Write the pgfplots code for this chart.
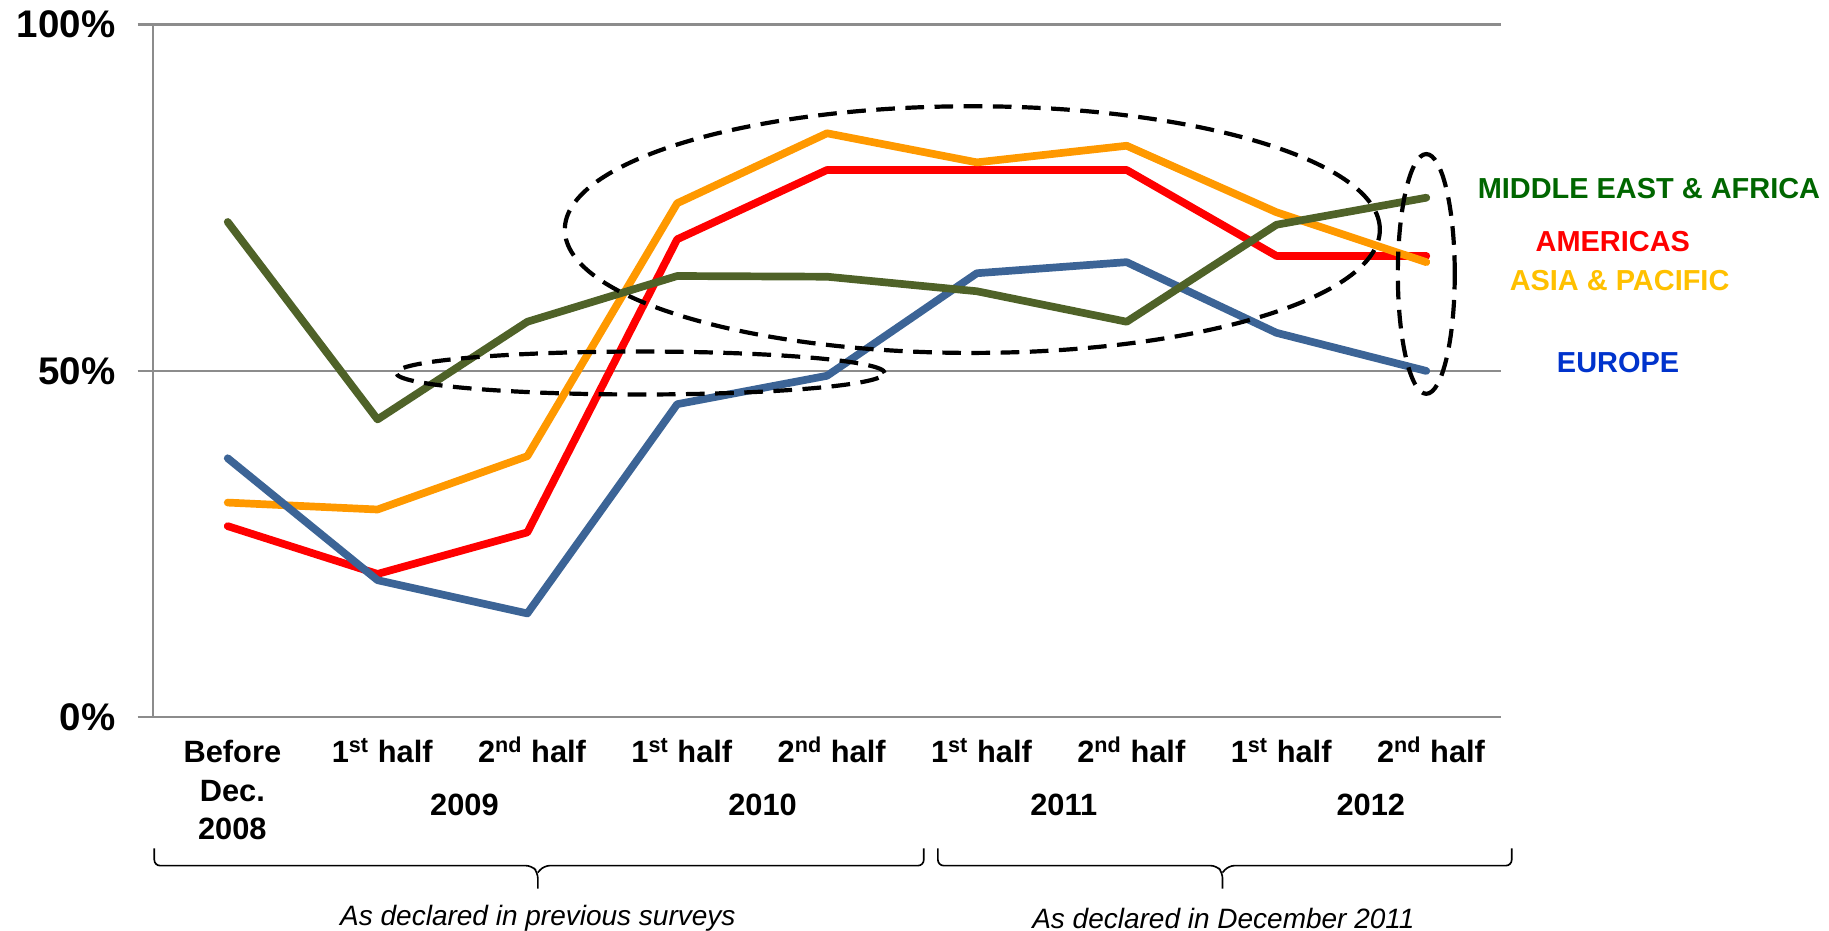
\documentclass[border=0pt]{standalone}
\usepackage{pgfplots}
\pgfplotsset{compat=1.18}
\usepackage{pgfplotstable}
\usepackage{fontspec}
\setmainfont{Liberation Sans}
\definecolor{meaLine}{HTML}{4F6228}
\definecolor{amLine}{HTML}{FF0000}
\definecolor{apLine}{HTML}{FF9900}
\definecolor{euLine}{HTML}{3C6496}
\definecolor{meaText}{HTML}{006600}
\definecolor{apText}{HTML}{FFC000}
\definecolor{euText}{HTML}{0033CC}
\definecolor{gridgray}{HTML}{8C8C8C}

\pgfplotstableread{
x mea am ap eu
0 71.5 27.6 31.0 37.4
1 43.0 20.7 30.0 19.8
2 57.1 26.7 37.7 15.0
3 63.7 69.0 74.2 45.2
4 63.6 79.0 84.3 49.3
5 61.5 79.0 80.1 64.1
6 57.1 79.0 82.5 65.7
7 71.1 66.6 72.9 55.5
8 75.0 66.6 65.7 50.0
}\datatable

\begin{document}
\begin{tikzpicture}
\path[use as bounding box] (-65.5pt,-91.5pt) rectangle (718.5pt,307.5pt);
\begin{axis}[
  scale only axis, width=578pt, height=297pt,
  at={(0,0)}, anchor=south west,
  xmin=-0.5, xmax=8.5, ymin=0, ymax=100,
  axis x line*=bottom, axis y line*=left,
  axis line style={draw=gridgray, line width=0.9pt},
  xtick={0,...,8},
  xticklabels={{\begin{tabular}[t]{@{}c@{}}Before\\Dec.\\2008\end{tabular}},
    1\textsuperscript{st} half, 2\textsuperscript{nd} half,
    1\textsuperscript{st} half, 2\textsuperscript{nd} half,
    1\textsuperscript{st} half, 2\textsuperscript{nd} half,
    1\textsuperscript{st} half, 2\textsuperscript{nd} half},
  xtick style={draw=none},
  ytick={0,50,100}, yticklabels={0\%,50\%,100\%},
  ytick style={draw=gridgray, line width=0.9pt},
  tick align=outside, major tick length=6.5pt,
  ymajorgrids, grid style={draw=gridgray, line width=0.9pt},
  yticklabel style={font=\fontsize{16.5pt}{19pt}\selectfont\bfseries, xshift=-6pt},
  xticklabel style={font=\fontsize{13.2pt}{16.5pt}\selectfont\bfseries, anchor=base, yshift=-13pt, xshift=2pt},
  clip=false,
  every axis plot/.append style={line width=3.3pt, line join=round, line cap=round, no marks},
]
\addplot[amLine] table[x=x, y=am] {\datatable};
\addplot[apLine] table[x=x, y=ap] {\datatable};
\addplot[euLine] table[x=x, y=eu] {\datatable};
\addplot[meaLine] table[x=x, y=mea] {\datatable};

% annotation ellipses
\draw[black, line width=1.8pt, dash pattern=on 8pt off 4.5pt] (axis cs:4.97,70.4) ellipse [x radius=2.72, y radius=17.8];
\draw[black, line width=1.8pt, dash pattern=on 8pt off 4.5pt] (axis cs:2.755,49.7) ellipse [x radius=1.63, y radius=3.1];
\draw[black, line width=1.8pt, dash pattern=on 8pt off 4.5pt] (axis cs:8.0,64.0) ellipse [x radius=0.19, y radius=17.3];

% year labels
\node[anchor=base, font=\fontsize{13.2pt}{16.5pt}\selectfont\bfseries] at (axis cs:1.58,-14.1) {2009};
\node[anchor=base, font=\fontsize{13.2pt}{16.5pt}\selectfont\bfseries] at (axis cs:3.57,-14.1) {2010};
\node[anchor=base, font=\fontsize{13.2pt}{16.5pt}\selectfont\bfseries] at (axis cs:5.58,-14.1) {2011};
\node[anchor=base, font=\fontsize{13.2pt}{16.5pt}\selectfont\bfseries] at (axis cs:7.63,-14.1) {2012};

% series labels
\node[text depth=0pt, font=\fontsize{12.4pt}{15pt}\selectfont\bfseries, text=meaText] at (axis cs:9.486,76.3) {MIDDLE EAST \& AFRICA};
\node[text depth=0pt, font=\fontsize{12.4pt}{15pt}\selectfont\bfseries, text=amLine] at (axis cs:9.245,68.7) {AMERICAS};
\node[text depth=0pt, font=\fontsize{12.4pt}{15pt}\selectfont\bfseries, text=apText] at (axis cs:9.29,63.1) {ASIA \& PACIFIC};
\node[text depth=0pt, font=\fontsize{12.4pt}{15pt}\selectfont\bfseries, text=euText] at (axis cs:9.28,51.3) {EUROPE};

% brackets
\draw[black, line width=0.7pt, rounded corners=2.5pt]
  (axis cs:-0.49,-18.9) -- (axis cs:-0.49,-21.4) -- (axis cs:2.03,-21.4) -- (axis cs:2.07,-22.4) -- (axis cs:2.07,-24.7);
\draw[black, line width=0.7pt, rounded corners=2.5pt]
  (axis cs:4.646,-18.9) -- (axis cs:4.646,-21.4) -- (axis cs:2.11,-21.4) -- (axis cs:2.07,-22.4);
\draw[black, line width=0.7pt, rounded corners=2.5pt]
  (axis cs:4.74,-18.9) -- (axis cs:4.74,-21.4) -- (axis cs:6.60,-21.4) -- (axis cs:6.64,-22.4) -- (axis cs:6.64,-24.7);
\draw[black, line width=0.7pt, rounded corners=2.5pt]
  (axis cs:8.57,-18.9) -- (axis cs:8.57,-21.4) -- (axis cs:6.68,-21.4) -- (axis cs:6.64,-22.4);
\node[font=\fontsize{12pt}{14pt}\selectfont\itshape] at (axis cs:2.07,-29.0) {As declared in previous surveys};
\node[font=\fontsize{12pt}{14pt}\selectfont\itshape] at (axis cs:6.646,-29.0) {As declared in December 2011};
\end{axis}
\end{tikzpicture}
\end{document}
